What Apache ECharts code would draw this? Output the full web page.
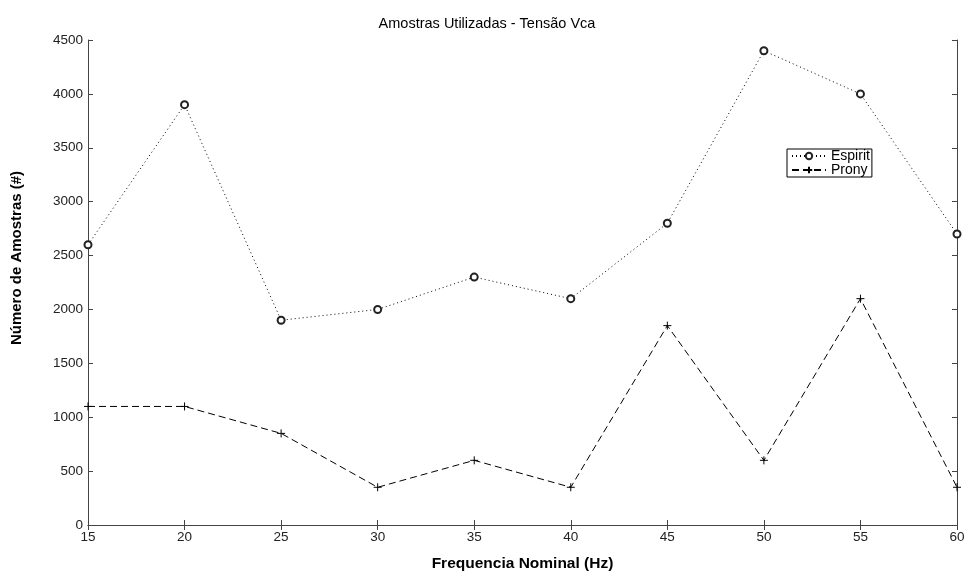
<!DOCTYPE html>
<html>
<head>
<meta charset="utf-8">
<script src="https://cdn.jsdelivr.net/npm/echarts@6/dist/echarts.min.js"></script>
<style>
  html, body { margin: 0; padding: 0; background: #fff; }
  #chart { width: 974px; height: 577px; }
</style>
</head>
<body>
<div id="chart"></div>
<script>
// Nominal frequencies (Hz) and sample counts per method
const frequencias = [15, 20, 25, 30, 35, 40, 45, 50, 55, 60];
const espirit = [2600, 3900, 1900, 2000, 2300, 2100, 2800, 4400, 4000, 2700];
const prony = [1100, 1100, 850, 350, 600, 350, 1850, 600, 2100, 350];

const pares = (ys) => frequencias.map((f, i) => [f, ys[i]]);

const FONT = '"Liberation Sans", Arial, sans-serif';
const AXIS_COLOR = '#444';
const plus = 'path://M0,5L10,5M5,0L5,10';

const chart = echarts.init(document.getElementById('chart'), null, { renderer: 'canvas' });

const tickStyle = { inside: true, length: 5, lineStyle: { color: AXIS_COLOR, width: 1 } };
const labelStyle = { color: '#222', fontFamily: FONT, fontSize: 13.5, formatter: (v) => String(v) };

chart.setOption({
  animation: false,
  backgroundColor: '#fff',
  title: {
    text: 'Amostras Utilizadas - Tensão Vca',
    left: 'center',
    top: 11,
    textStyle: { fontFamily: FONT, fontSize: 14.5, fontWeight: 'normal', color: '#000' }
  },
  grid: { left: 88, right: 17, top: 40, bottom: 46 },
  legend: {
    orient: 'vertical',
    left: 787,
    top: 149,
    itemWidth: 34,
    itemHeight: 8,
    itemGap: 0,
    padding: [0, 2, 0, 4],
    borderColor: '#000',
    borderWidth: 1,
    backgroundColor: '#fff',
    textStyle: { fontFamily: FONT, fontSize: 14, lineHeight: 13, color: '#000' },
    data: ['Espirit', 'Prony']
  },
  graphic: [
    {
      type: 'text',
      x: 17,
      y: 258,
      rotation: Math.PI / 2,
      style: {
        text: 'Número de Amostras (#)',
        fontFamily: FONT,
        fontSize: 15,
        fontWeight: 'bold',
        fill: '#000',
        align: 'center',
        verticalAlign: 'middle'
      }
    }
  ],
  xAxis: [
    {
      type: 'value',
      min: 15, max: 60, interval: 5,
      name: 'Frequencia Nominal (Hz)',
      nameLocation: 'middle',
      nameGap: 31,
      nameTextStyle: { fontFamily: FONT, fontSize: 15.5, fontWeight: 'bold', color: '#000' },
      axisLine: { show: true, onZero: false, lineStyle: { color: AXIS_COLOR } },
      axisTick: tickStyle,
      axisLabel: Object.assign({ margin: 5 }, labelStyle),
      splitLine: { show: false }
    },
    {
      type: 'value',
      position: 'top',
      min: 15, max: 60, interval: 5,
      axisLine: { show: true, lineStyle: { color: AXIS_COLOR } },
      axisTick: tickStyle,
      axisLabel: { show: false },
      splitLine: { show: false }
    }
  ],
  yAxis: [
    {
      type: 'value',
      min: 0, max: 4500, interval: 500,
      axisLine: { show: true, onZero: false, lineStyle: { color: AXIS_COLOR } },
      axisTick: tickStyle,
      axisLabel: Object.assign({ margin: 5 }, labelStyle),
      splitLine: { show: false }
    },
    {
      type: 'value',
      position: 'right',
      min: 0, max: 4500, interval: 500,
      axisLine: { show: true, lineStyle: { color: AXIS_COLOR } },
      axisTick: tickStyle,
      axisLabel: { show: false },
      splitLine: { show: false }
    }
  ],
  series: [
    {
      name: 'Espirit',
      type: 'line',
      data: pares(espirit),
      symbol: 'emptyCircle',
      symbolSize: 7,
      lineStyle: { color: '#000', width: 1, type: [1, 3] },
      itemStyle: { color: '#222', borderColor: '#222', borderWidth: 1 }
    },
    {
      name: 'Prony',
      type: 'line',
      data: pares(prony),
      symbol: plus,
      symbolSize: 8,
      lineStyle: { color: '#000', width: 1, type: [7, 4] },
      itemStyle: { color: '#000', borderColor: '#000', borderWidth: 1 }
    }
  ]
});
</script>
</body>
</html>
